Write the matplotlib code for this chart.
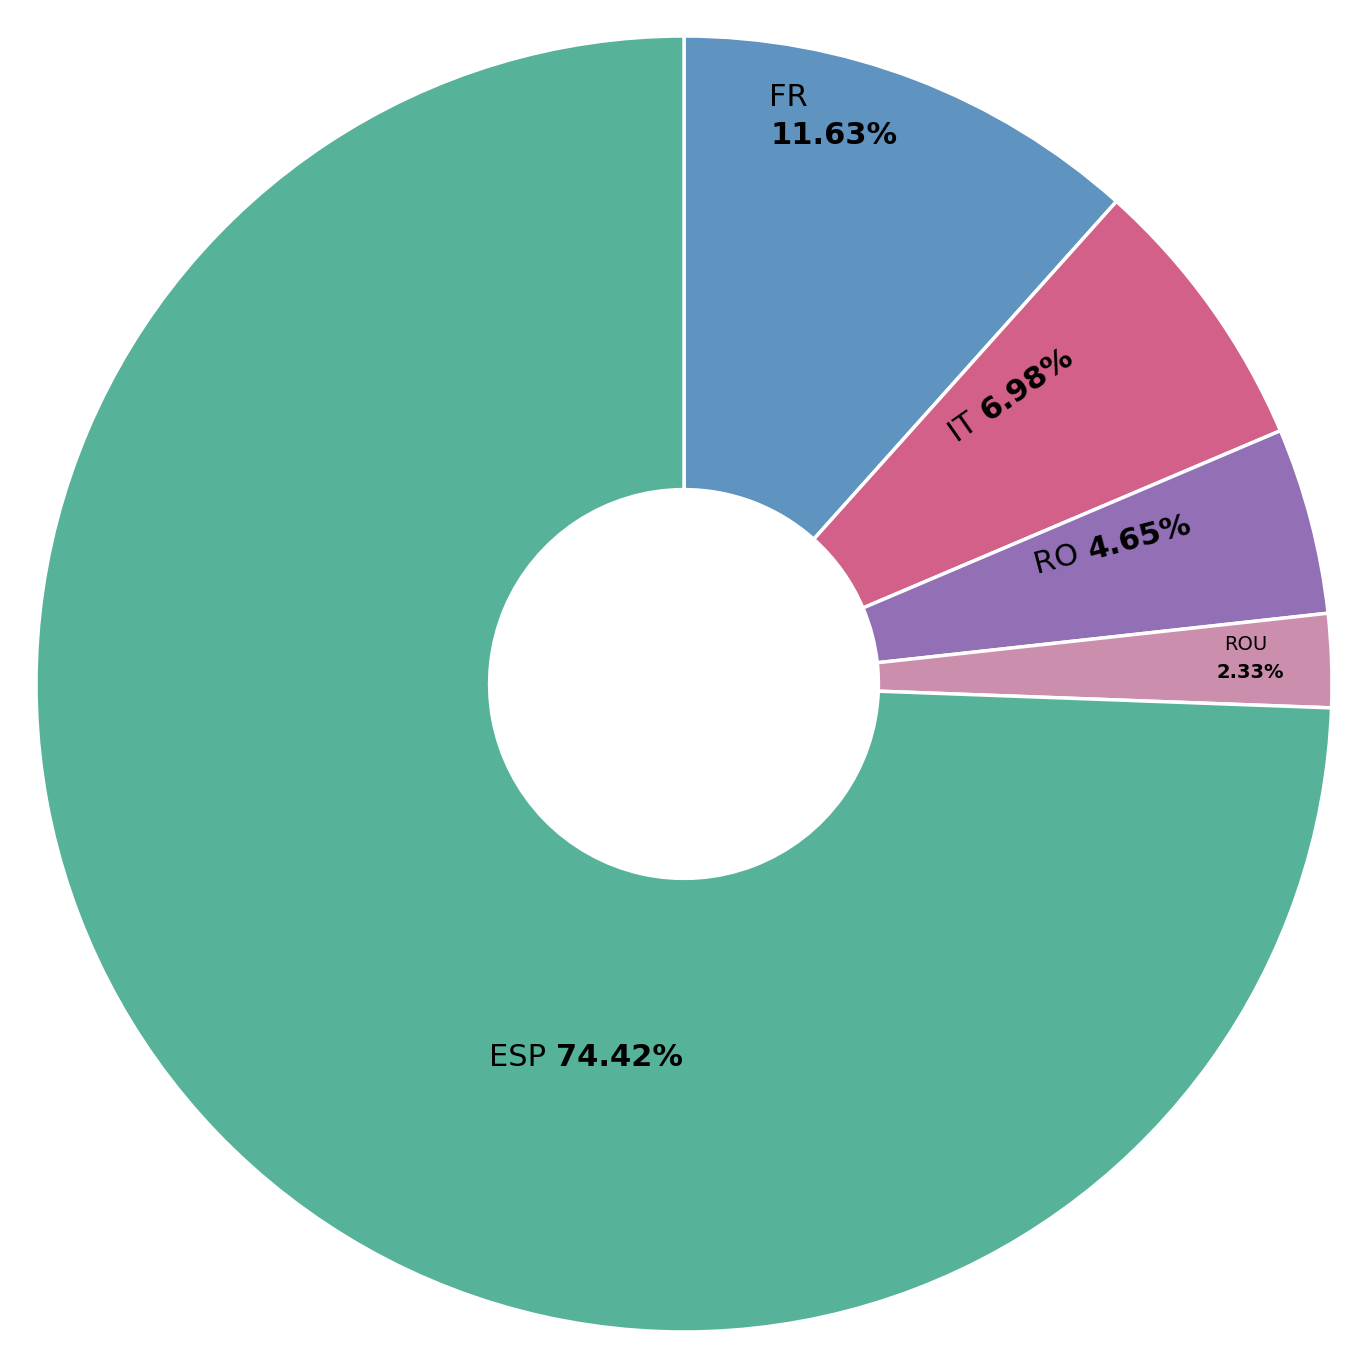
import matplotlib.pyplot as plt

labels = ['FR', 'IT', 'RO', 'ROU', 'ESP']
shares = [11.63, 6.98, 4.65, 2.33, 74.42]
colors = ['#5f93c0', '#d26088', '#9370b6', '#cb8fad', '#56b39a']

W, H = 1357, 1360
cx, cy, R = 684, 684, 648


def to_data(px, py):
    return (px - cx) / R, (cy - py) / R


fig = plt.figure(figsize=(W / 100, H / 100), dpi=100)
ax = fig.add_axes([0, 0, 1, 1])
ax.pie(shares, colors=colors, startangle=90, counterclock=False, radius=1,
       wedgeprops=dict(width=0.7, edgecolor='white', linewidth=2.5))
ax.set_xlim(-cx / R, (W - cx) / R)
ax.set_ylim(-(H - cy) / R, cy / R)
ax.axis('off')

# two-line labels (FR, ROU)
x, y = to_data(788, 97)
ax.text(x, y, 'FR', fontsize=22, ha='center', va='center')
x, y = to_data(834, 135)
ax.text(x, y, f'{shares[0]:.2f}%', fontsize=22, ha='center', va='center', fontweight='bold')
x, y = to_data(1246, 645)
ax.text(x, y, 'ROU', fontsize=14, ha='center', va='center')
x, y = to_data(1250, 673)
ax.text(x, y, f'{shares[3]:.2f}%', fontsize=14, ha='center', va='center', fontweight='bold')

# one-line labels: name then bold value around an anchor point
inline = [(1, (983, 415), 35), (2, (1088, 552), 15), (4, (556, 1058), 0)]
for i, (px, py), rot in inline:
    x, y = to_data(px, py)
    ax.text(x, y, labels[i] + ' ', fontsize=22, ha='right', va='center',
            rotation=rot, rotation_mode='anchor')
    ax.text(x, y, f'{shares[i]:.2f}%', fontsize=22, ha='left', va='center',
            fontweight='bold', rotation=rot, rotation_mode='anchor')

fig.savefig('out.png', dpi=100)
